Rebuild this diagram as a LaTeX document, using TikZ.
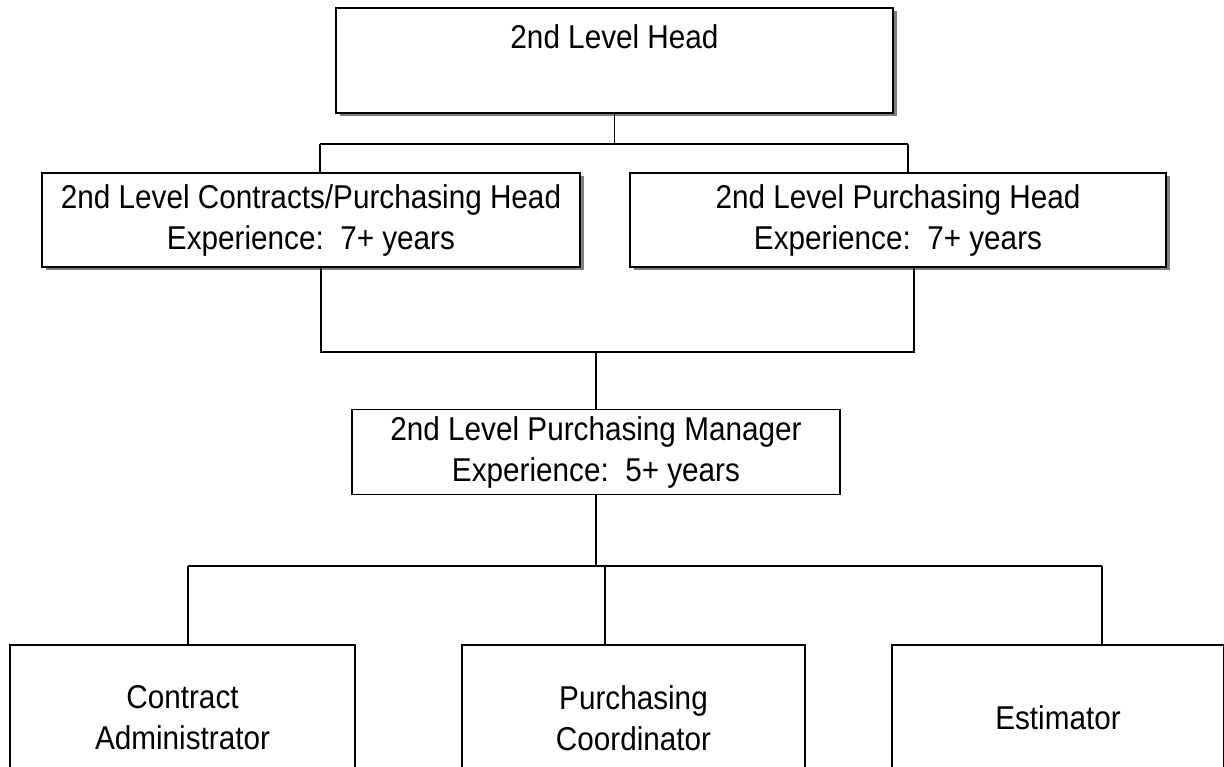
\documentclass[tikz,border=0pt]{standalone}
\usepackage{fontspec}
\setmainfont[FakeStretch=0.9]{Liberation Sans}
\begin{document}
\begin{tikzpicture}[x=1pt,y=-1pt,
  box/.style={draw, line width=1.6pt, fill=white, inner sep=0pt, align=center,
    font=\fontsize{33}{41}\selectfont},
  lbl/.style={inner sep=0pt, font=\fontsize{33}{41}\selectfont},
  shadowed/.style={preaction={fill=black!50, transform canvas={xshift=3.5pt,yshift=-3.5pt}}},
  conn/.style={line width=1.5pt},
  bus/.style={line width=2.2pt}]
\useasboundingbox (0,0) rectangle (1224,767);
\clip (0,0) rectangle (1224,767);

% nodes
\node[box,shadowed,minimum width=557pt,minimum height=105pt] (head) at (614.5,60.5) {};
\node[lbl] (headtxt) at (614.5,37) {2nd Level Head};

\node[box,shadowed,minimum width=538pt,minimum height=94pt] (cph) at (311,220)
  {2nd Level Contracts/Purchasing Head\\Experience:\ \ 7+ years};
\node[box,shadowed,minimum width=536pt,minimum height=94pt] (ph) at (898,220)
  {2nd Level Purchasing Head\\Experience:\ \ 7+ years};

\node[box,minimum width=488pt,minimum height=85pt] (mgr) at (596,452)
  {2nd Level Purchasing Manager\\Experience:\ \ 5+ years};

\node[box,minimum width=345pt,minimum height=146pt] (ca) at (182.5,718)
  {Contract\\Administrator};
\node[box,minimum width=343pt,minimum height=146pt] (pc) at (633.5,718)
  {Purchasing\\Coordinator};
\node[box,minimum width=332pt,minimum height=146pt] (est) at (1058,718)
  {Estimator};

% bus coordinates
\coordinate (b1l) at (320,144);
\coordinate (b1r) at (908,144);
\coordinate (b2l) at (321,352);
\coordinate (b2r) at (914,352);
\coordinate (b3l) at (188,566);
\coordinate (b3m) at (605,566);
\coordinate (b3r) at (1102,566);

% connectors
\draw[conn] (head.south) -- (head.south |- b1l);
\draw[conn] (b1l) -- (b1r);
\draw[conn] (b1l) -- (b1l |- cph.north);
\draw[conn] (b1r) -- (b1r |- ph.north);

\draw[conn] (b2l |- cph.south) -- (b2l) -- (b2r) -- (b2r |- ph.south);
\draw[conn] (mgr.north) -- (mgr.north |- b2l);

\draw[conn] (mgr.south) -- (mgr.south |- b3l);
\draw[bus] (b3l) -- (b3r);
\draw[conn] (b3l) -- (b3l |- ca.north);
\draw[conn] (b3m) -- (b3m |- pc.north);
\draw[conn] (b3r) -- (b3r |- est.north);
\end{tikzpicture}
\end{document}
